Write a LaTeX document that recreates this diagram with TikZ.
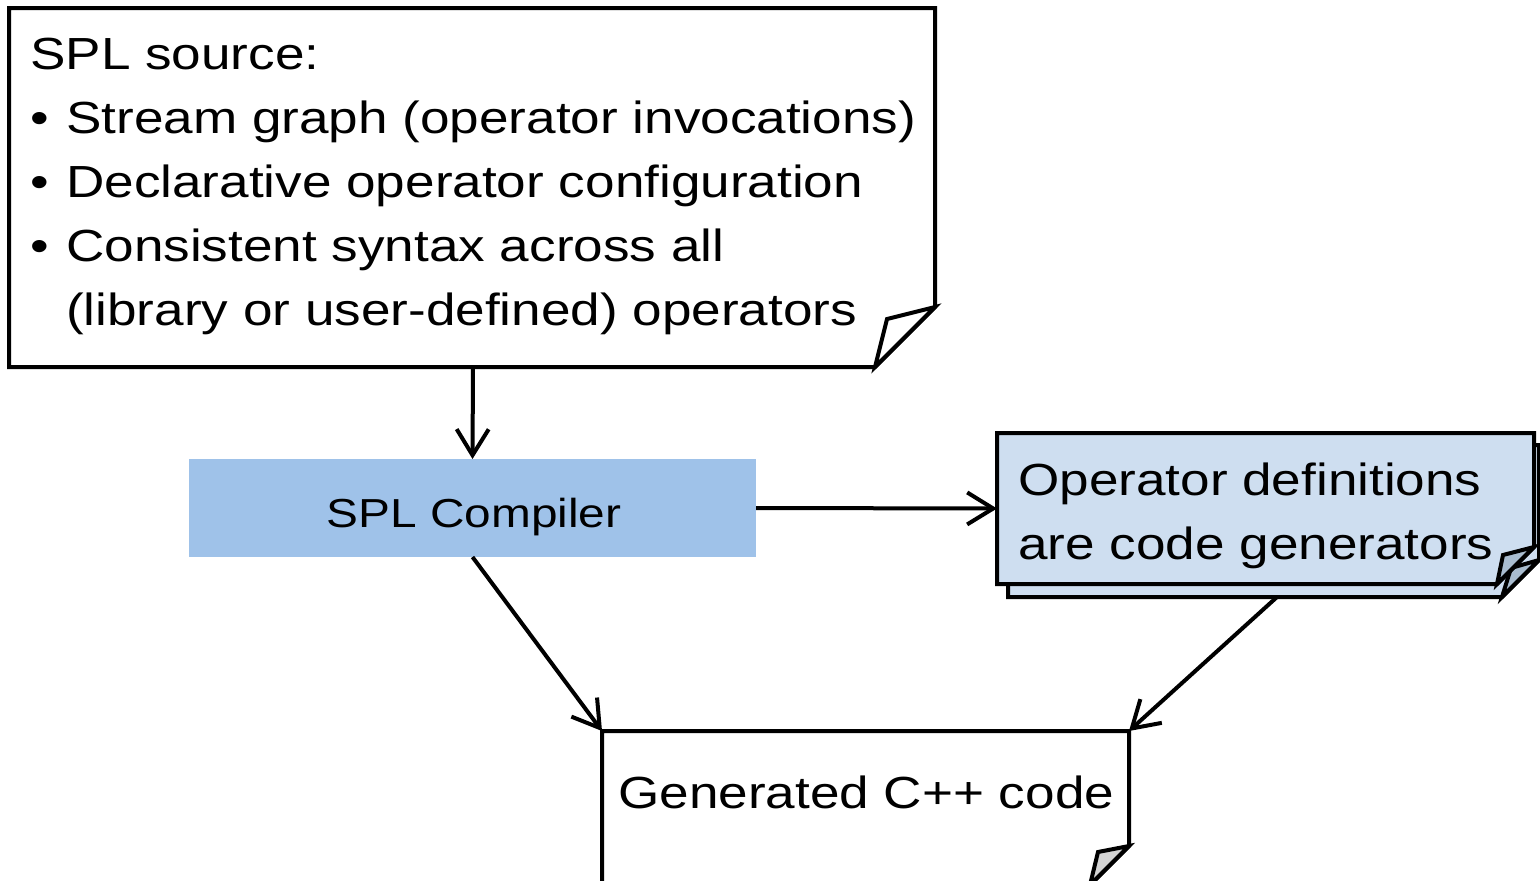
\documentclass[tikz,border=0pt]{standalone}
\usepackage{fontspec}
\setmainfont{Liberation Sans}[FakeStretch=1.18]
\usetikzlibrary{arrows.meta,calc}
\definecolor{compfill}{HTML}{9FC2E9}
\definecolor{opsfill}{HTML}{CEDEF0}
\definecolor{opsflap}{HTML}{A9BCCF}
\definecolor{genflap}{HTML}{D4D4D4}
\tikzset{
  outline/.style={draw=black, line width=4pt, line join=miter},
  txt/.style={anchor=base west, inner sep=0pt, font=\fontsize{45}{54}\selectfont},
  flow/.style={draw=black, line width=4pt, -{Straight Barb[length=26pt,width=32pt,line width=4pt]}},
  frame/.style={inner sep=0pt, outer sep=0pt, draw=none}
}
\begin{document}
\begin{tikzpicture}[x=1pt,y=-1pt]
\useasboundingbox (0,0) rectangle (1540,881);
\clip (0,0) rectangle (1540,881);

% node frames used for anchoring
\node[frame, minimum width=926pt, minimum height=359pt] (src) at (472,187.5) {};
\node[frame, minimum width=567pt, minimum height=98pt, fill=compfill] (comp) at (472.5,508) {};
\node[frame, minimum width=537pt, minimum height=151pt] (ops) at (1265.5,508.5) {};
\node[frame, minimum width=527pt, minimum height=154pt] (gen) at (865.5,808) {};

% source document with folded corner
\path[outline, fill=white] (9,8) -- (935,8) -- (935,307) -- (875,367) -- (9,367) -- cycle;
\path[outline, fill=white] (935,307) -- (887,319) -- (875,367) -- cycle;

% stacked operator definition sheets
\path[outline, fill=opsfill] (1008,445) -- (1539,445) -- (1539,560) -- (1502,597) -- (1008,597) -- cycle;
\path[outline, fill=opsflap] (1539,560) -- (1511,568) -- (1502,597) -- cycle;
\path[outline, fill=opsfill] (997,433) -- (1534,433) -- (1534,547) -- (1497,584) -- (997,584) -- cycle;
\path[outline, fill=opsflap] (1534,547) -- (1503,555) -- (1497,584) -- cycle;

% generated code sheet
\path[outline, fill=white] (602,731) -- (1129,731) -- (1129,846) -- (1090,885) -- (602,885) -- cycle;
\path[outline, fill=genflap] (1129,846) -- (1098,852) -- (1090,885) -- cycle;

% texts
\node[txt] (t1) at (30,69) {SPL source:};
\node[txt] (b1) at (30,133) {•};
\node[txt] (t2) at (66,133) {Stream graph (operator invocations)};
\node[txt] (b2) at (30,197) {•};
\node[txt] (t3) at (66,197) {Declarative operator configuration};
\node[txt] (b3) at (30,261) {•};
\node[txt] (t4) at (66,261) {Consistent syntax across all};
\node[txt] (t5) at (66,325) {(library or user-defined) operators};

\node[txt, anchor=base, font=\fontsize{40.5}{48}\selectfont] (tc) at (474,527) {SPL Compiler};
\node[txt] (to1) at (1018,495) {Operator definitions};
\node[txt] (to2) at (1018,559) {are code generators};
\node[txt] (tg) at (618,808) {Generated C++ code};

% connectors
\coordinate (opsout) at (1277,597);
\draw[flow] (473,367) -- (comp.north);
\draw[flow] (comp.east) -- (ops.west);
\draw[flow] (comp.south) -- (gen.north west);
\draw[flow] (opsout) -- (gen.north east);
\end{tikzpicture}
\end{document}
